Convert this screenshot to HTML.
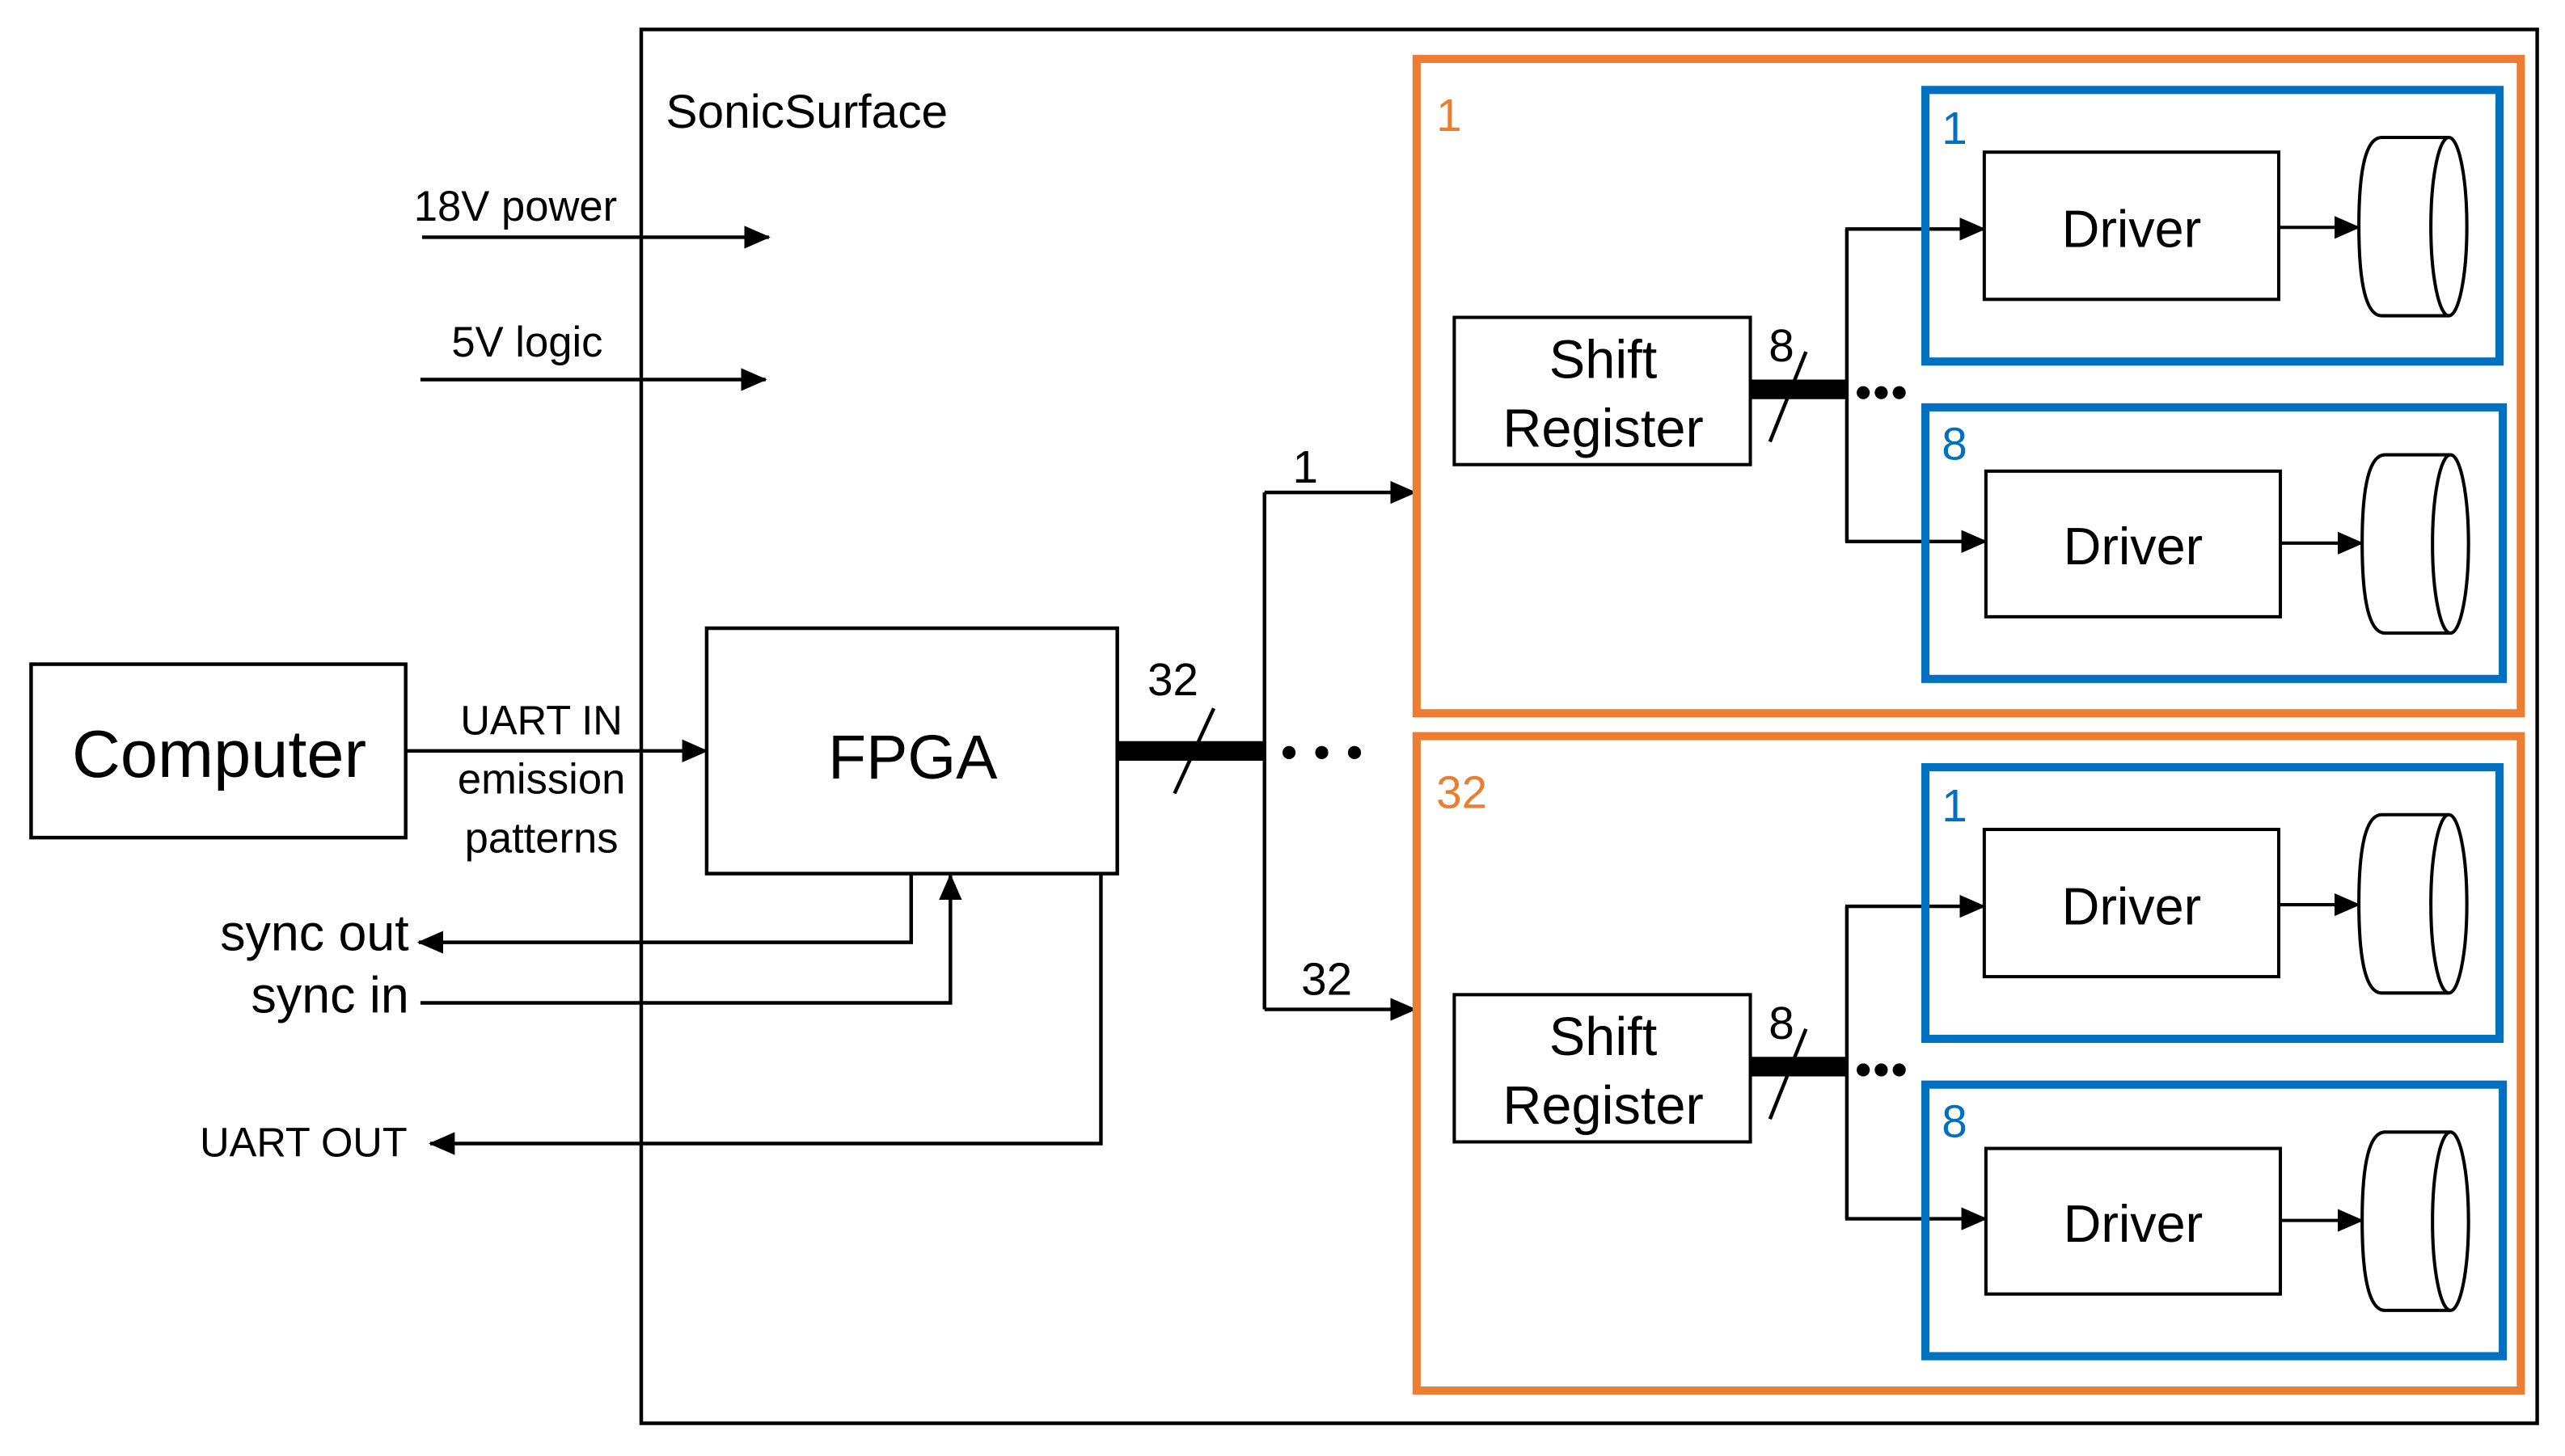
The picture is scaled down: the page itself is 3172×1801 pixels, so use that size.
<!DOCTYPE html>
<html><head><meta charset="utf-8"><style>
html,body{margin:0;padding:0;background:#fff;}
svg{display:block;}
text{font-family:"Liberation Sans",sans-serif;fill:#000;}
</style></head><body>
<svg width="3172" height="1801" viewBox="0 0 1568 890" preserveAspectRatio="none" xmlns="http://www.w3.org/2000/svg">
<defs>
<marker id="b" markerWidth="16" markerHeight="14" refX="15" refY="7" orient="auto" markerUnits="userSpaceOnUse">
<path d="M0,0 L16,7 L0,14 z" fill="#000"/>
</marker>
</defs>
<g fill="none" stroke="#000" stroke-width="2.2">
<rect x="392" y="18" width="1159" height="852"/>
<rect x="19" y="406" width="229" height="106"/>
<rect x="432" y="384" width="251" height="150"/>
<line x1="258" y1="145" x2="470" y2="145" marker-end="url(#b)"/>
<line x1="257" y1="232" x2="468" y2="232" marker-end="url(#b)"/>
<line x1="248" y1="459" x2="432" y2="459" marker-end="url(#b)"/>
<polyline points="557,534 557,576 256,576" marker-end="url(#b)"/>
<polyline points="257,613 581,613 581,535" marker-end="url(#b)"/>
<polyline points="673,534 673,699 263,699" marker-end="url(#b)"/>
<line x1="683" y1="459" x2="773" y2="459" stroke-width="12"/>
<line x1="718" y1="485" x2="742" y2="433"/>
<line x1="773" y1="301" x2="773" y2="617"/>
<line x1="773" y1="301" x2="865" y2="301" marker-end="url(#b)"/>
<line x1="773" y1="617" x2="865" y2="617" marker-end="url(#b)"/>
</g>
<g fill="#000">
<circle cx="788" cy="460" r="4"/><circle cx="808" cy="460" r="4"/><circle cx="828" cy="460" r="4"/>
</g>
<text x="407" y="78" font-size="29">SonicSurface</text>
<text x="253" y="135" font-size="26">18V power</text>
<text x="276" y="218" font-size="26">5V logic</text>
<text x="134" y="475" font-size="41" text-anchor="middle">Computer</text>
<text x="331" y="449" font-size="25" text-anchor="middle">UART IN</text>
<text x="331" y="485" font-size="26" text-anchor="middle">emission</text>
<text x="331" y="521" font-size="26" text-anchor="middle">patterns</text>
<text x="558" y="476" font-size="38" text-anchor="middle">FPGA</text>
<text x="717" y="425" font-size="28" text-anchor="middle">32</text>
<text x="798" y="295" font-size="28" text-anchor="middle">1</text>
<text x="811" y="608" font-size="28" text-anchor="middle">32</text>
<text x="250" y="581" font-size="31" text-anchor="end">sync out</text>
<text x="250" y="619" font-size="31" text-anchor="end">sync in</text>
<text x="249" y="707" font-size="25" text-anchor="end">UART OUT</text>

<g id="grp">
<rect x="866" y="36" width="675" height="400" fill="none" stroke="#ED7D31" stroke-width="5"/>
<rect x="889" y="194" width="181" height="90" fill="none" stroke="#000" stroke-width="2"/>
<text x="980" y="231" font-size="33" text-anchor="middle">Shift</text>
<text x="980" y="273" font-size="33" text-anchor="middle">Register</text>
<g fill="none" stroke="#000" stroke-width="2.2">
<line x1="1070" y1="238" x2="1129" y2="238" stroke-width="12"/>
<line x1="1082" y1="270" x2="1104" y2="215"/>
<line x1="1129" y1="140" x2="1129" y2="331"/>
<line x1="1128" y1="140" x2="1213" y2="140" marker-end="url(#b)"/>
<line x1="1128" y1="331" x2="1214" y2="331" marker-end="url(#b)"/>
</g>
<text x="1089" y="221" font-size="28" text-anchor="middle">8</text>
<g fill="#000"><circle cx="1139" cy="240" r="4"/><circle cx="1150" cy="240" r="4"/><circle cx="1161" cy="240" r="4"/></g>
<g fill="none" stroke="#0070C0" stroke-width="5">
<rect x="1177" y="55" width="351" height="166"/>
<rect x="1177" y="249" width="353" height="166"/>
</g>
<g fill="none" stroke="#000" stroke-width="2">
<rect x="1213" y="93" width="180" height="90"/>
<rect x="1214" y="288" width="180" height="89"/>
<line x1="1393" y1="139" x2="1442" y2="139" marker-end="url(#b)"/>
<line x1="1394" y1="332" x2="1444" y2="332" marker-end="url(#b)"/>
<path d="M1497,84 L1456,84 Q1442,84 1442,138 Q1442,193 1456,193 L1497,193"/>
<ellipse cx="1497" cy="138.5" rx="11" ry="54.5"/>
<path d="M1498,278 L1458,278 Q1444,278 1444,332 Q1444,387 1458,387 L1498,387"/>
<ellipse cx="1498" cy="332.5" rx="11" ry="54.5"/>
</g>
<text x="1303" y="151" font-size="32" text-anchor="middle">Driver</text>
<text x="1304" y="345" font-size="32" text-anchor="middle">Driver</text>
<text x="1187" y="88" font-size="28" style="fill:#0070C0">1</text>
<text x="1187" y="281" font-size="28" style="fill:#0070C0">8</text>
</g>
<use href="#grp" transform="translate(0,414)"/>
<text x="878" y="80" font-size="28" style="fill:#ED7D31">1</text>
<text x="878" y="494" font-size="28" style="fill:#ED7D31">32</text>
</svg>
</body></html>
